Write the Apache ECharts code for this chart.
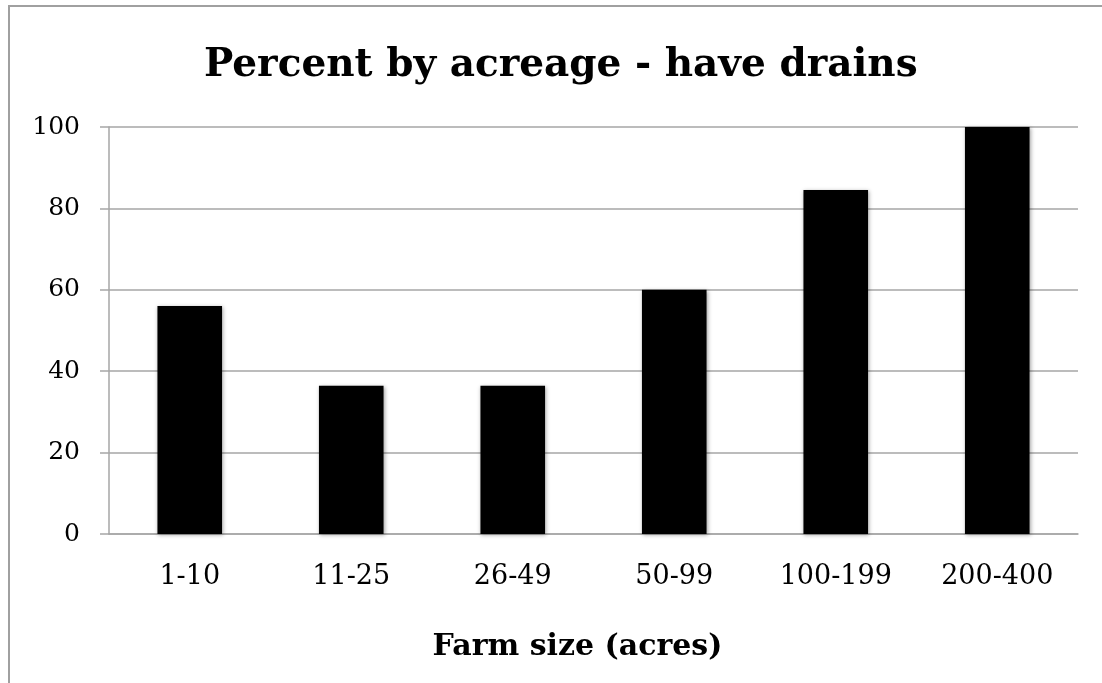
<!DOCTYPE html>
<html>
<head>
<meta charset="utf-8">
<title>Percent by acreage - have drains</title>
<script src="https://cdn.jsdelivr.net/npm/echarts@6/dist/echarts.min.js"></script>
<style>
  html, body { margin: 0; padding: 0; background: #fff; }
  #chart { width: 1102px; height: 683px; }
</style>
</head>
<body>
<div id="chart"></div>
<script>
// farm size buckets and share that have drains (%)
const farmSizes = ['1-10', '11-25', '26-49', '50-99', '100-199', '200-400'];
const pctDrains = [56, 36.4, 36.4, 60, 84.5, 100];
const yTicks = { min: 0, max: 100, interval: 20 };

const serif = '"DejaVu Serif", "Liberation Serif", serif';
const gridGray = '#a6a6a6';

const chart = echarts.init(document.getElementById('chart'));

const option = {
  animation: false,
  backgroundColor: '#fff',
  title: {
    text: 'Percent by acreage - have drains',
    left: 204,
    top: 46,
    padding: 0,
    textStyle: {
      fontFamily: serif,
      fontWeight: 'bold',
      fontSize: 39,
      color: '#000'
    }
  },
  graphic: [
    {
      type: 'rect',
      shape: { x: 9, y: 6, width: 1200, height: 800 },
      style: { fill: 'none', stroke: '#a0a0a0', lineWidth: 2 },
      silent: true
    }
  ],
  grid: {
    left: 109,
    right: 24,
    top: 127,
    bottom: 149
  },
  xAxis: {
    type: 'category',
    data: farmSizes,
    name: 'Farm size (acres)',
    nameLocation: 'middle',
    nameGap: 98,
    nameTextStyle: {
      fontFamily: serif,
      fontWeight: 'bold',
      fontSize: 30,
      color: '#000',
      padding: [0, 32, 0, 0]
    },
    axisLine: { lineStyle: { color: gridGray, width: 1.5 } },
    axisTick: { length: 9, lineStyle: { color: gridGray, width: 1.5 } },
    axisLabel: {
      margin: 29,
      fontFamily: serif,
      fontSize: 27,
      color: '#000'
    }
  },
  yAxis: {
    type: 'value',
    min: yTicks.min,
    max: yTicks.max,
    interval: yTicks.interval,
    axisLine: { show: true, lineStyle: { color: gridGray, width: 1.5 } },
    axisTick: { show: true, length: 9, lineStyle: { color: gridGray, width: 1.5 } },
    splitLine: { lineStyle: { color: gridGray, width: 1.5 } },
    axisLabel: {
      margin: 29,
      fontFamily: serif,
      fontSize: 25,
      color: '#000'
    }
  },
  series: [
    {
      type: 'bar',
      data: pctDrains,
      barWidth: '40%',
      itemStyle: {
        color: '#000',
        shadowBlur: 4,
        shadowColor: 'rgba(0, 0, 0, 0.35)',
        shadowOffsetX: 1,
        shadowOffsetY: 1
      }
    }
  ]
};

chart.setOption(option);
</script>
</body>
</html>
